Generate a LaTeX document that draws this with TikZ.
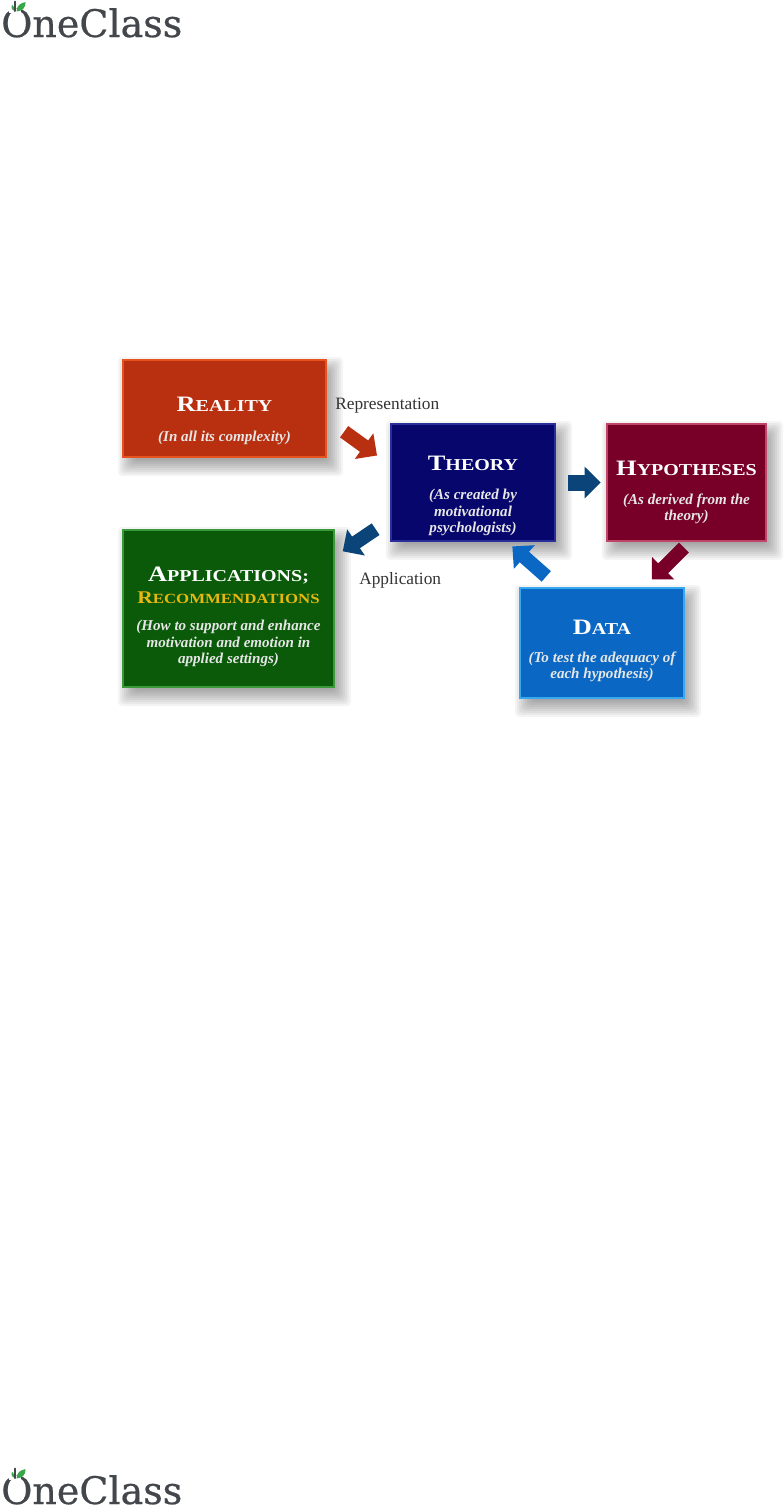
\documentclass[tikz,border=0pt]{standalone}
\usepackage{fontspec}
\setmainfont{Liberation Serif}
\newfontfamily\capsfont[FakeStretch=1.2]{Liberation Serif}
\newfontfamily\logofont[FakeBold=0.5]{DejaVu Serif}
\usetikzlibrary{arrows.meta,calc}
\definecolor{redbox}{HTML}{B83010}\definecolor{redline}{HTML}{E8521E}
\definecolor{navybox}{HTML}{06066C}\definecolor{navyline}{HTML}{2A2E9A}
\definecolor{winebox}{HTML}{780028}\definecolor{wineline}{HTML}{C04468}
\definecolor{greenbox}{HTML}{0A5A0A}\definecolor{greenline}{HTML}{3A9A3A}
\definecolor{bluebox}{HTML}{0A68C4}\definecolor{blueline}{HTML}{38A8F0}
\definecolor{steelarrow}{HTML}{0A4478}
\definecolor{goldtext}{HTML}{E8B810}\definecolor{subtext}{HTML}{E6E6E6}
\definecolor{logogrey}{HTML}{43474C}\definecolor{leaf}{HTML}{3AA648}
\newcommand{\tcap}[2]{{\capsfont\bfseries\fontsize{16.5}{18}\selectfont #1\fontsize{12.5}{18}\selectfont #2}}
\newcommand{\subfont}{\bfseries\itshape\fontsize{11.3}{12.4}\selectfont\color{subtext}}
\newcommand{\inbox}[2]{\makebox[0pt]{\raisebox{#1pt}[0pt][0pt]{\parbox[c]{165pt}{\centering #2}}}}
\newcommand{\softshadow}[4]{%
  \foreach \d in {-9,-7,...,11}{%
    \fill[black,opacity=0.042,rounded corners=3pt] (#1+6-\d,#2+8-\d) rectangle (#3+6+\d,#4+8+\d);}}
\newcommand{\logomark}[2]{%
  \begin{scope}[shift={(#1,#2)}]
    \fill[white] (9,9) rectangle (21,13);
    \draw[logogrey,line width=1.5pt,line cap=round] (15,1.5) -- (15,11);
    \fill[leaf] (16.5,11.5) .. controls (17,5) and (20,3.5) .. (25.5,2) .. controls (26,8) and (22,11) .. (16.5,11.5) -- cycle;
    \fill[leaf] (14,10.5) .. controls (11,9.5) and (11,6) .. (12,4.5) .. controls (14,6) and (14.5,8) .. (14,10.5) -- cycle;
  \end{scope}}
\tikzset{
  x=0.75pt,y=-0.75pt,
  boxnode/.style={rectangle,draw=#1line,fill=#1box,line width=1.5pt,inner sep=0pt,text=white},
  blockarrow/.style={draw=#1,line width=10.5pt,-{Triangle[length=12pt,width=23pt,fill=#1,color=#1]}},
  plainlabel/.style={inner sep=0pt,text=black!80,font=\fontsize{13}{15}\selectfont},
  logotext/.style={inner sep=0pt,anchor=base west,text=logogrey,font=\logofont\fontsize{28.5}{32}\selectfont},
}
\begin{document}
\begin{tikzpicture}
\useasboundingbox (0,0) rectangle (784,1507);
\fill[white] (0,0) rectangle (784,1507);
\softshadow{123}{360}{326}{457}
\softshadow{391}{424}{555}{541}
\softshadow{607}{424}{766}{541}
\softshadow{123}{530}{334}{687}
\softshadow{520}{588}{684}{698}

\node[boxnode=red,minimum width=152pt,minimum height=72.75pt] (reality) at (224.5,408.5)
  {\inbox{-12}{\tcap{R}{EALITY}\\[10pt]\subfont (In all its complexity)}};
\node[boxnode=navy,minimum width=123pt,minimum height=87.75pt] (theory) at (473,482.5)
  {\inbox{-12.8}{\tcap{T}{HEORY}\\[9.4pt]\subfont (As created by\\motivational\\psychologists)}};
\node[boxnode=wine,minimum width=119.25pt,minimum height=87.75pt] (hypotheses) at (686.5,482.5)
  {\inbox{-10.25}{\tcap{H}{YPOTHESES}\\[9pt]\subfont (As derived from the\\theory)}};
\node[boxnode=green,minimum width=158.25pt,minimum height=117.75pt] (applications) at (228.5,608.5)
  {\inbox{-8.9}{\tcap{A}{PPLICATIONS;}\\[4.25pt]{\capsfont\bfseries\color{goldtext}\fontsize{13.4}{16}\selectfont R\fontsize{10.5}{16}\selectfont ECOMMENDATIONS}\\[8pt]\subfont (How to support and enhance\\motivation and emotion in\\applied settings)}};
\node[boxnode=blue,minimum width=123pt,minimum height=82.5pt] (data) at (602,643)
  {\inbox{-8.6}{\tcap{D}{ATA}\\[8.25pt]\subfont (To test the adequacy of\\each hypothesis)}};

\draw[blockarrow=redbox,shorten <=16pt,shorten >=12pt] (reality.-6) -- (theory.168);
\draw[blockarrow=steelarrow,line width=12pt,shorten <=9pt,shorten >=4pt] (theory.east) -- (hypotheses.west);
\draw[blockarrow=winebox,shorten <=6pt,shorten >=8pt] (hypotheses.-87) -- (data.53);
\draw[blockarrow=bluebox,shorten <=12pt,shorten >=5pt] (data.128) -- (theory.-60);
\draw[blockarrow=steelarrow,shorten <=13pt,shorten >=7pt] (theory.-156) -- (applications.26);

\node[plainlabel,anchor=base west] (replabel) at (335,409) {Representation};
\node[plainlabel,anchor=base west] (applabel) at (359,584) {Application};

\node[logotext] (logotop) at (1,37) {OneClass};
\logomark{0}{0}
\node[logotext] (logobottom) at (1,1504) {OneClass};
\logomark{0}{1467}
\end{tikzpicture}
\end{document}
